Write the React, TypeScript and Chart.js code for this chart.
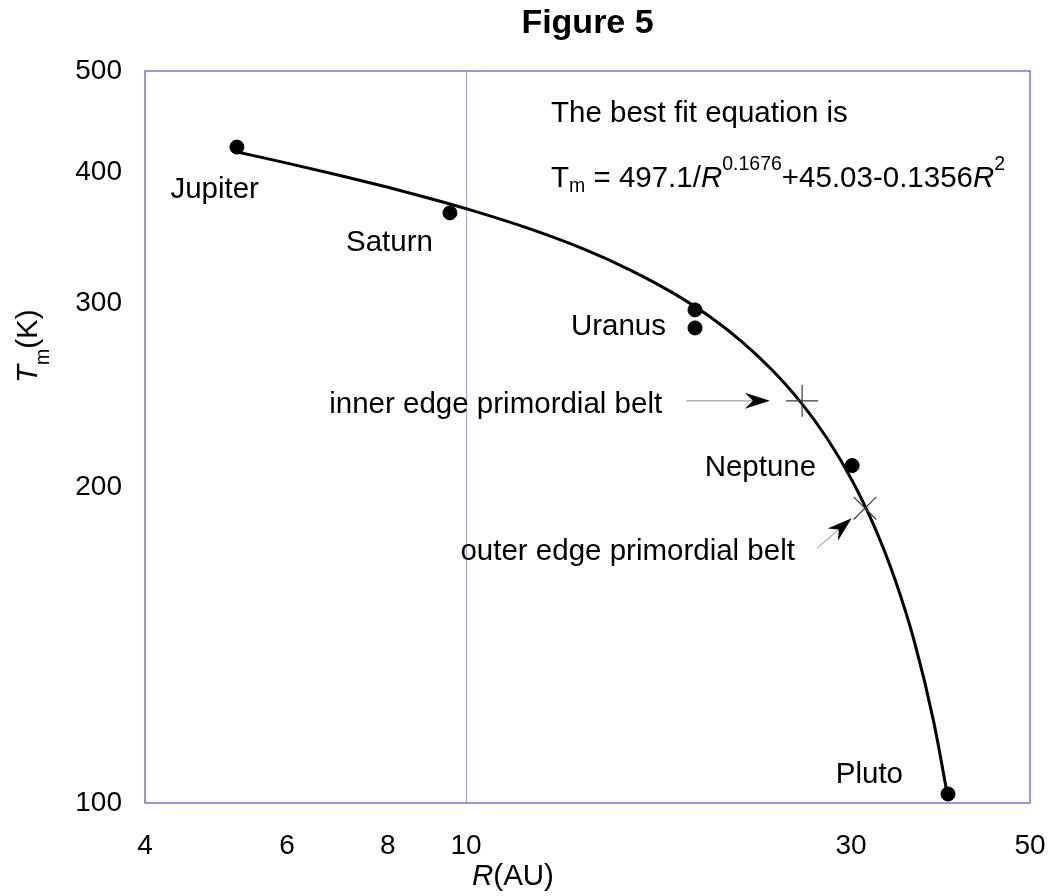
import React, { useEffect, useRef } from 'react';
import { Chart, registerables } from 'chart.js';

Chart.register(...registerables);

// ---- data ----
const planetNames = ['Jupiter', 'Saturn', 'Uranus', 'Uranus', 'Neptune', 'Pluto'];
const planetR = [5.2, 9.55, 19.22, 19.22, 30.1, 39.57];
const planetT = [423, 366, 295.7, 284.2, 210, 102];

const fitR = [5.2, 6, 7, 8, 9, 10, 12, 14, 16, 18, 20, 22, 24, 26, 28, 30, 32, 34, 36, 38, 39.6];
const fitT = [418.5, 408.3, 397.2, 387.2, 378.0, 369.4, 353.3, 337.9, 322.6, 307.3, 291.7, 275.5, 258.7, 241.3, 223.1, 204.1, 184.3, 163.6, 142.0, 119.4, 100.7];

const beltNames = ['inner edge primordial belt', 'outer edge primordial belt'];
const beltR = [26.09, 31.22];
const beltT = [242.1, 191.2];
const arrowFromR = [18.74, 27.22];
const arrowFromT = [242.1, 175.1];
const arrowToR = [23.8, 30.06];
const arrowToT = [242.1, 187.0];

const xTicks = [4, 6, 8, 10, 30, 50];
const yTicks = [100, 200, 300, 400, 500];

const titleText = 'Figure 5';
const equationIntro = 'The best fit equation is';

// ---- styling ----
const FAMILY = '"Liberation Sans", Arial, Helvetica, sans-serif';
const f = (size: number, style = 'normal', weight = 'normal') => `${style} ${weight} ${size}px ${FAMILY}`;
const LABEL = 29.5;
const SMALL = 19.5;

// label placement relative to each planet point (pixels)
const planetLabelOffsets = [
  { dx: 22, dy: 51, show: true },
  { dx: -17, dy: 38, show: true },
  { dx: 0, dy: 0, show: false },
  { dx: -29, dy: 7, show: true },
  { dx: -36, dy: 10, show: true },
  { dx: -45, dy: -11, show: true },
];
const beltLabelOffsets = [
  { dx: -24, dy: 12 },
  { dx: -22, dy: 12 },
];

type Run = { text: string; size: number; style?: string; dy?: number };
function drawRuns(ctx: CanvasRenderingContext2D, x: number, y: number, runs: Run[]) {
  for (const r of runs) {
    ctx.font = f(r.size, r.style || 'normal');
    ctx.fillText(r.text, x, y + (r.dy || 0));
    x += ctx.measureText(r.text).width;
  }
}

const annotationPlugin = {
  id: 'figureAnnotations',
  beforeDatasetsDraw(chart: any) {
    const { ctx, chartArea: a } = chart;
    ctx.save();
    ctx.strokeStyle = '#7474d4';
    ctx.lineWidth = 1.5;
    ctx.strokeRect(a.left, a.top, a.right - a.left, a.bottom - a.top);
    ctx.restore();
  },
  afterDatasetsDraw(chart: any) {
    const { ctx, chartArea: a, scales } = chart;
    const xs = scales.x;
    const ys = scales.y;
    ctx.save();
    ctx.fillStyle = '#000';
    ctx.textBaseline = 'alphabetic';

    // planet labels
    ctx.font = f(LABEL);
    ctx.textAlign = 'right';
    planetNames.forEach((name, i) => {
      const o = planetLabelOffsets[i];
      if (!o.show) return;
      const px = xs.getPixelForValue(planetR[i]);
      const py = ys.getPixelForValue(planetT[i]);
      ctx.fillText(name, px + o.dx, py + o.dy);
    });

    // arrows + belt labels
    beltNames.forEach((name, i) => {
      const x0 = xs.getPixelForValue(arrowFromR[i]);
      const y0 = ys.getPixelForValue(arrowFromT[i]);
      const x1 = xs.getPixelForValue(arrowToR[i]);
      const y1 = ys.getPixelForValue(arrowToT[i]);
      const ang = Math.atan2(y1 - y0, x1 - x0);
      const len = 25;
      const hw = 8;
      const notch = 17;
      const cos = Math.cos(ang);
      const sin = Math.sin(ang);
      ctx.strokeStyle = '#8a8a8a';
      ctx.lineWidth = 1;
      ctx.beginPath();
      ctx.moveTo(x0, y0);
      ctx.lineTo(x1 - cos * notch, y1 - sin * notch);
      ctx.stroke();
      ctx.fillStyle = '#000';
      ctx.beginPath();
      ctx.moveTo(x1, y1);
      ctx.lineTo(x1 - cos * len - sin * hw, y1 - sin * len + cos * hw);
      ctx.lineTo(x1 - cos * notch, y1 - sin * notch);
      ctx.lineTo(x1 - cos * len + sin * hw, y1 - sin * len - cos * hw);
      ctx.closePath();
      ctx.fill();

      ctx.font = f(LABEL);
      ctx.textAlign = 'right';
      ctx.fillText(name, x0 + beltLabelOffsets[i].dx, y0 + beltLabelOffsets[i].dy);
    });

    // equation
    ctx.textAlign = 'left';
    ctx.font = f(LABEL);
    ctx.fillText(equationIntro, a.left + 406, a.top + 51);
    drawRuns(ctx, a.left + 406, a.top + 116, [
      { text: 'T', size: LABEL },
      { text: 'm', size: SMALL, dy: 5 },
      { text: ' = 497.1/', size: LABEL },
      { text: 'R', size: LABEL, style: 'italic' },
      { text: '0.1676', size: SMALL, dy: -17 },
      { text: '+45.03-0.1356', size: LABEL },
      { text: 'R', size: LABEL, style: 'italic' },
      { text: '2', size: SMALL, dy: -17 },
    ]);

    // title
    ctx.textAlign = 'center';
    ctx.font = f(34, 'normal', 'bold');
    ctx.fillText(titleText, (a.left + a.right) / 2, 33);

    // x axis title
    ctx.textAlign = 'left';
    drawRuns(ctx, 472, 885, [
      { text: 'R', size: LABEL, style: 'italic' },
      { text: '(AU)', size: LABEL },
    ]);

    // y axis title (rotated)
    ctx.save();
    ctx.translate(37, 383);
    ctx.rotate(-Math.PI / 2);
    drawRuns(ctx, 0, 0, [
      { text: 'T', size: LABEL, style: 'italic' },
      { text: 'm', size: SMALL, dy: 12 },
      { text: '(K)', size: LABEL },
    ]);
    ctx.restore();

    ctx.restore();
  },
};

export default function App() {
  const ref = useRef<HTMLCanvasElement>(null);

  useEffect(() => {
    const canvas = ref.current;
    if (!canvas) return;
    const chart = new Chart(canvas, {
      type: 'scatter',
      data: {
        datasets: [
          {
            label: 'Planets',
            data: planetR.map((r, i) => ({ x: r, y: planetT[i] })),
            pointStyle: 'circle',
            pointRadius: 7,
            pointBackgroundColor: '#000',
            pointBorderColor: '#000',
            pointBorderWidth: 1,
            showLine: false,
            order: 0,
          },
          {
            label: 'Belt edges',
            data: beltR.map((r, i) => ({ x: r, y: beltT[i] })),
            pointStyle: ['cross', 'crossRot'] as any,
            pointRadius: [16, 16] as any,
            pointBorderColor: '#3a3a3a',
            pointBorderWidth: 1.2,
            showLine: false,
            order: 1,
          },
          {
            label: 'Best fit',
            data: fitR.map((r, i) => ({ x: r, y: fitT[i] })),
            showLine: true,
            borderColor: '#000',
            borderWidth: 3,
            pointRadius: 0,
            cubicInterpolationMode: 'monotone',
            fill: false,
            order: 2,
          } as any,
        ],
      },
      options: {
        responsive: false,
        animation: false,
        devicePixelRatio: 1,
        events: [],
        layout: { padding: { top: 71, right: 22, left: 0, bottom: 0 } },
        plugins: {
          legend: { display: false },
          tooltip: { enabled: false },
          title: { display: false },
        },
        scales: {
          x: {
            type: 'logarithmic',
            min: 4,
            max: 50,
            afterBuildTicks: (s: any) => {
              s.ticks = xTicks.map((v) => ({ value: v }));
            },
            afterFit: (s: any) => {
              s.height = 93;
              s.paddingLeft = 0;
              s.paddingRight = 0;
            },
            ticks: {
              autoSkip: false,
              maxRotation: 0,
              padding: 26,
              color: '#000',
              font: { family: FAMILY, size: 28 },
              callback: (v: any) => String(v),
            },
            grid: {
              drawTicks: false,
              lineWidth: 1,
              color: (ctx: any) => (ctx.tick && ctx.tick.value === 10 ? 'rgba(110,110,190,0.6)' : 'rgba(0,0,0,0)'),
            },
            border: { display: false },
          },
          y: {
            type: 'logarithmic',
            min: 100,
            max: 500,
            afterBuildTicks: (s: any) => {
              s.ticks = yTicks.map((v) => ({ value: v }));
            },
            afterFit: (s: any) => {
              s.width = 145;
              s.paddingTop = 0;
              s.paddingBottom = 0;
            },
            ticks: {
              autoSkip: false,
              padding: 23,
              color: '#000',
              font: { family: FAMILY, size: 28 },
              callback: (v: any) => String(v),
            },
            grid: { display: false, drawTicks: false },
            border: { display: false },
          },
        },
      } as any,
      plugins: [annotationPlugin],
    });
    return () => chart.destroy();
  }, []);

  return (
    <div style={{ position: 'absolute', left: 0, top: 0, width: 1052, height: 896, background: '#fff' }}>
      <canvas ref={ref} width={1052} height={896} style={{ display: 'block', width: 1052, height: 896 }} />
    </div>
  );
}
